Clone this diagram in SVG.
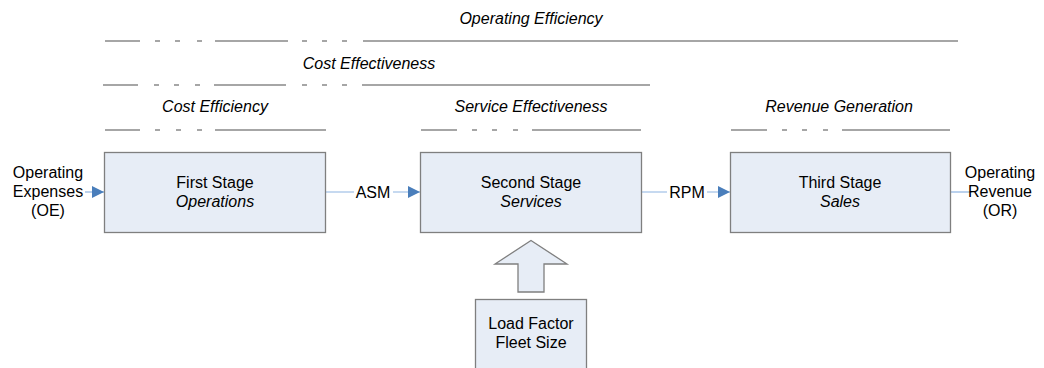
<svg xmlns="http://www.w3.org/2000/svg" width="1044" height="368" viewBox="0 0 1044 368">
<defs>
<style>
text{font-family:"Liberation Sans",Arial,sans-serif;font-size:16px;fill:#000;text-anchor:middle}
.it{font-style:italic}
.box{fill:#e7edf6;stroke:#7f7f7f;stroke-width:1.3}
.dl{stroke:#a6a6a6;stroke-width:1.8;fill:none}
.conn{stroke:#8db3e2;stroke-width:1.2;fill:none}
</style>
<marker id="ah" viewBox="0 0 10 10" refX="10" refY="5" markerWidth="12" markerHeight="12" markerUnits="userSpaceOnUse" orient="auto">
<path d="M0,0 L10,5 L0,10 z" fill="#4a7ebb"/>
</marker>
</defs>
<rect width="1044" height="368" fill="#fff"/>
<g id="scopes">
<text class="it" x="531" y="24">Operating Efficiency</text>
<path class="dl" d="M105,41H140M155,41H160M175,41H180M197,41H202M215,41H288M302,41H307M322,41H327M342,41H347M363,41H958"/>
<text class="it" x="369" y="69">Cost Effectiveness</text>
<path class="dl" d="M103,85H138M154,85H159M174,85H179M195,85H200M214,85H286M302,85H307M322,85H327M342,85H347M362,85H650"/>
<text class="it" x="215" y="112">Cost Efficiency</text>
<path class="dl" d="M105,130H140M155,130H160M176,130H181M197,130H202M215,130H326"/>
<text class="it" x="531" y="112">Service Effectiveness</text>
<path class="dl" d="M421,130H457M472,130H477M492,130H497M513,130H518M532,130H641"/>
<text class="it" x="839" y="112">Revenue Generation</text>
<path class="dl" d="M731,130H767M782,130H787M802,130H807M823,130H828M842,130H950"/>
</g>
<g id="connectors">
<path class="conn" d="M85,192H104" marker-end="url(#ah)"/>
<path class="conn" d="M325,192H354M393,192H420" marker-end="url(#ah)"/>
<path class="conn" d="M641,192H667M707,192H730" marker-end="url(#ah)"/>
<path class="conn" d="M950,192H972"/>
</g>
<g id="oe">
<text x="48" y="178">Operating</text>
<text x="48" y="197">Expenses</text>
<text x="48" y="216">(OE)</text>
</g>
<g id="asm"><text x="373" y="198">ASM</text></g>
<g id="rpm"><text x="687" y="198">RPM</text></g>
<g id="or">
<text x="1000" y="178">Operating</text>
<text x="1000" y="197">Revenue</text>
<text x="1000" y="216">(OR)</text>
</g>
<g id="stage1">
<rect class="box" x="104.5" y="152.5" width="221" height="80"/>
<text x="215" y="188">First Stage</text>
<text class="it" x="215" y="207">Operations</text>
</g>
<g id="stage2">
<rect class="box" x="420.5" y="152.5" width="221" height="80"/>
<text x="531" y="188">Second Stage</text>
<text class="it" x="531" y="207">Services</text>
</g>
<g id="stage3">
<rect class="box" x="730.5" y="152.5" width="220" height="80"/>
<text x="840" y="188">Third Stage</text>
<text class="it" x="840" y="207">Sales</text>
</g>
<g id="uparrow">
<path class="box" d="M531,240.5L567,264L544,264L544,292L518,292L518,264L495,264Z"/>
</g>
<g id="load">
<rect class="box" x="475.5" y="299.5" width="111" height="75"/>
<text x="531" y="329">Load Factor</text>
<text x="531" y="348">Fleet Size</text>
</g>
</svg>
